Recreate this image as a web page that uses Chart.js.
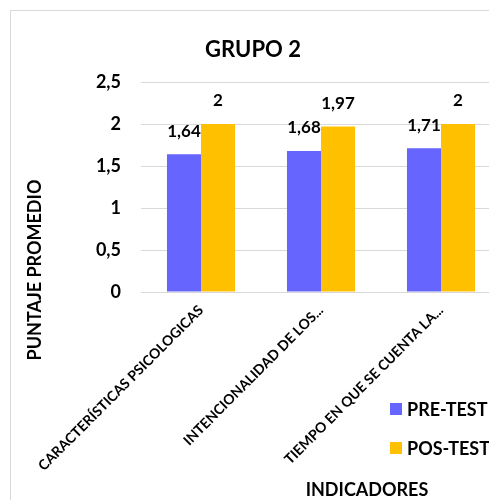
<!DOCTYPE html>
<html>
<head>
<meta charset="utf-8">
<script src="https://cdn.jsdelivr.net/npm/chart.js@4/dist/chart.umd.min.js"></script>
<style>
  html, body { margin: 0; padding: 0; background: #fff; overflow: hidden; }
  #wrap { position: relative; width: 520px; height: 500px; }
</style>
</head>
<body>
<div id="wrap"><canvas id="c"></canvas></div>
<script>
const chartTitle = 'GRUPO 2';
const categories = [
  ['CARACTERÍSTICAS PSICOLOGICAS'],
  ['INTENCIONALIDAD DE LOS...'],
  ['TIEMPO EN QUE SE CUENTA LA...']
];
const seriesNames = ['PRE-TEST', 'POS-TEST'];
const preTest = [1.64, 1.68, 1.71];
const posTest = [2, 1.97, 2];
const yTickLabels = ['0', '0,5', '1', '1,5', '2', '2,5'];
const yAxisTitle = 'PUNTAJE PROMEDIO';
const xAxisTitle = 'INDICADORES';

const FONT = 'Lato, "Open Sans", sans-serif';
const colors = ['#6666FF', '#FFC000'];
const fmt = v => String(v).replace('.', ',');

const decor = {
  id: 'decor',
  afterDraw(chart) {
    const ctx = chart.ctx;
    ctx.save();
    // outer border
    ctx.strokeStyle = '#d9d9d9';
    ctx.lineWidth = 1;
    ctx.strokeRect(10.5, 10.5, 600, 600);
    ctx.fillStyle = '#000';
    ctx.textAlign = 'center';
    ctx.textBaseline = 'middle';
    // title
    ctx.font = 'bold 22px ' + FONT;
    ctx.fillText(chartTitle, 253, 50);
    // data labels
    ctx.font = 'bold 17px ' + FONT;
    chart.data.datasets.forEach((ds, di) => {
      chart.getDatasetMeta(di).data.forEach((bar, i) => {
        ctx.fillText(fmt(ds.data[i]), bar.x, bar.y - 23);
      });
    });
    // y axis title
    ctx.font = 'bold 18px ' + FONT;
    ctx.save();
    ctx.translate(35, 270);
    ctx.rotate(-Math.PI / 2);
    ctx.fillText(yAxisTitle, 0, 0);
    ctx.restore();
    // x axis title
    ctx.fillText(xAxisTitle, 367, 490);
    // legend
    ctx.textAlign = 'left';
    ctx.font = 'bold 18px ' + FONT;
    chart.data.datasets.forEach((ds, di) => {
      const y = 409 + di * 39;
      ctx.fillStyle = ds.backgroundColor;
      ctx.fillRect(390, y - 6, 12, 12);
      ctx.fillStyle = '#000';
      ctx.fillText(ds.label, 407, y + 1);
    });
    ctx.restore();
  }
};

new Chart(document.getElementById('c'), {
  type: 'bar',
  data: {
    labels: categories,
    datasets: [
      { label: seriesNames[0], data: preTest, backgroundColor: colors[0] },
      { label: seriesNames[1], data: posTest, backgroundColor: colors[1] }
    ]
  },
  options: {
    responsive: true,
    maintainAspectRatio: false,
    animation: false,
    layout: { padding: { left: 0, top: 82, right: 19, bottom: 0 } },
    datasets: { bar: { barPercentage: 1, categoryPercentage: 0.567, borderWidth: 0 } },
    plugins: { legend: { display: false }, title: { display: false }, tooltip: { enabled: false } },
    scales: {
      x: {
        grid: { display: false, drawTicks: false },
        border: { display: true, color: '#d9d9d9' },
        ticks: {
          color: '#000', font: { family: FONT, size: 14, weight: 'bold' },
          minRotation: 45, maxRotation: 45, padding: 10, autoSkip: false
        },
        afterFit(s) { s.height = 208; }
      },
      y: {
        min: 0, max: 2.5,
        grid: { color: '#d9d9d9', drawTicks: false },
        border: { display: false },
        ticks: {
          stepSize: 0.5, padding: 20, color: '#000',
          font: { family: FONT, size: 18, weight: 'bold' },
          callback: (v, i) => yTickLabels[i]
        },
        afterFit(s) { s.width = 141; }
      }
    }
  },
  plugins: [decor]
});
</script>
</body>
</html>
